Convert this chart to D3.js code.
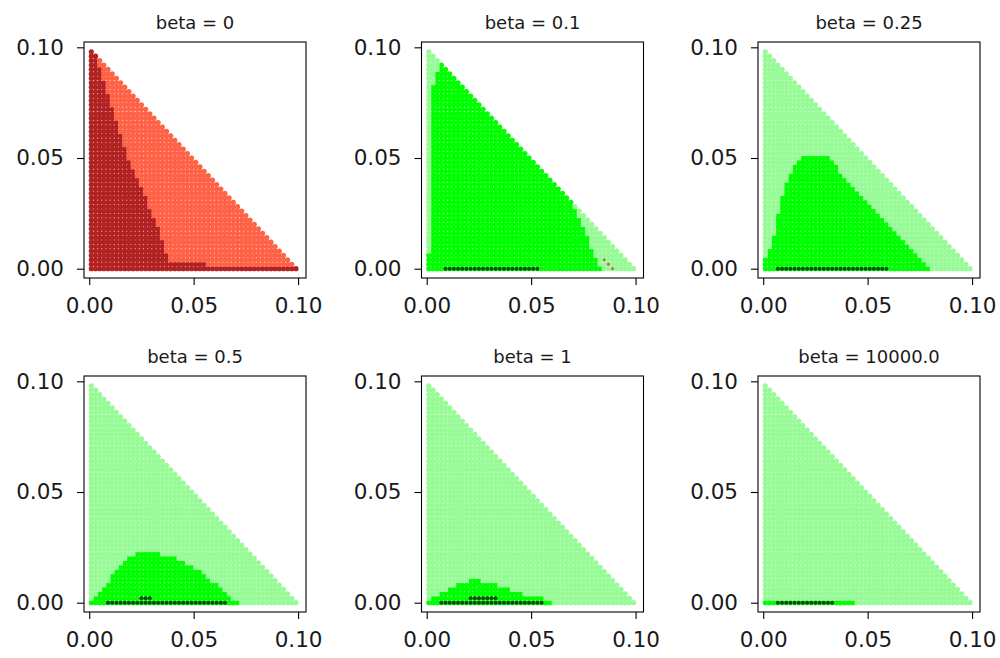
<!DOCTYPE html>
<html>
<head>
<meta charset="utf-8">
<script src="https://cdn.jsdelivr.net/npm/d3@7"></script>
<style>
  html, body { margin: 0; padding: 0; background: #ffffff; }
  svg { display: block; }
  .tick text { font-family: "DejaVu Sans", sans-serif; }
</style>
</head>
<body>
<svg id="chart" width="1000" height="658"></svg>
<script>
// Grid of parameter pairs: x = 0.001 + 0.002*i, y = 0.002*j, with x + y < 0.1
const xStart = 0.001, xStep = 0.002, nCols = 50;
const yStep = 0.002;

const betaLabels = ["0", "0.1", "0.25", "0.5", "1", "10000.0"];

// Highest row index (per column) that belongs to the inner region; -1 = none
const innerTopBeta0 = [49,48,45,42,39,36,33,30,27,24,22,20,18,16,13,11,9,6,3,
  1,1,1,1,1,1,1,1,1,
  0,0,0,0,0,0,0,0,0,0,0,0,0,0,0,0,0,0,0,0,0,0];
const innerTopBeta01 = [3,41,44,46,45,44,43,42,41,40,39,38,37,36,35,34,33,32,31,30,
  29,28,27,26,25,24,23,22,21,20,19,18,17,16,15,13,11,9,7,4,2,0,
  -1,-1,-1,-1,-1,-1,-1,-1];
const innerTopBeta025 = [2,4,7,12,16,19,21,23,24,25,25,25,25,25,25,25,24,23,21,20,
  19,18,17,16,15,14,13,12,11,10,9,8,7,6,5,4,3,2,1,0,
  -1,-1,-1,-1,-1,-1,-1,-1,-1,-1];
const innerTopBeta05 = [0,1,2,3,4,6,7,8,9,10,10,11,11,11,11,11,11,10,10,10,
  10,9,9,8,8,7,7,6,5,4,4,3,2,1,0,0,
  -1,-1,-1,-1,-1,-1,-1,-1,-1,-1,-1,-1,-1,-1];
const innerTopBeta1 = [0,1,1,2,2,3,3,4,4,4,5,5,5,4,4,4,4,3,3,3,
  2,2,2,1,1,1,1,1,0,0,
  -1,-1,-1,-1,-1,-1,-1,-1,-1,-1,-1,-1,-1,-1,-1,-1,-1,-1,-1,-1];
const innerTopBeta1e4 = [0,0,0,0,0,0,0,0,0,0,0,0,0,0,0,0,0,0,0,0,0,0,
  -1,-1,-1,-1,-1,-1,-1,-1,-1,-1,-1,-1,-1,-1,-1,-1,-1,-1,-1,-1,-1,-1,-1,-1,-1,-1,-1,-1];

// Optimal points: [row, first column, last column]
const optimaBeta0 = [];
const optimaBeta01 = [[0, 4, 26]];
const optimaBeta025 = [[0, 3, 29]];
const optimaBeta05 = [[0, 4, 32], [1, 12, 14]];
const optimaBeta1 = [[0, 3, 27], [1, 10, 16]];
const optimaBeta1e4 = [[0, 3, 16]];

// Isolated points of the other class: [x, y]
const specksBeta01 = [[0.085, 0.004], [0.087, 0.002], [0.089, 0.0]];

const innerTops = [innerTopBeta0, innerTopBeta01, innerTopBeta025, innerTopBeta05, innerTopBeta1, innerTopBeta1e4];
const optima = [optimaBeta0, optimaBeta01, optimaBeta025, optimaBeta05, optimaBeta1, optimaBeta1e4];
const specks = [[], specksBeta01, [], [], [], []];

const palettes = [
  { outer: "#ff6347", inner: "#b22222" },
  { outer: "#98fb98", inner: "#00ff00" },
  { outer: "#98fb98", inner: "#00ff00" },
  { outer: "#98fb98", inner: "#00ff00" },
  { outer: "#98fb98", inner: "#00ff00" },
  { outer: "#98fb98", inner: "#00ff00" }
];

const tickValues = [0, 0.05, 0.10];
const tickLabels = ["0.00", "0.05", "0.10"];

// Layout
const panelLefts = [84, 421.5, 758];
const panelTops = [42, 376];
const panelW = 222, panelH = 236;
const xDomain = [-0.0025, 0.1038];
const yDomain = [-0.0042, 0.1024];
const dotR = 2.6;

const svg = d3.select("#chart");

// Build grid of points once
const grid = [];
for (let i = 0; i < nCols; i++) {
  const x = xStart + xStep * i;
  for (let j = 0; ; j++) {
    const y = yStep * j;
    if (x + y >= 0.1 - 1e-9) break;
    grid.push({ i, j, x, y });
  }
}

betaLabels.forEach((beta, p) => {
  const row = Math.floor(p / 3), col = p % 3;
  const left = panelLefts[col], top = panelTops[row];
  const g = svg.append("g").attr("transform", `translate(${left},${top})`);

  const xs = d3.scaleLinear().domain(xDomain).range([0, panelW]);
  const ys = d3.scaleLinear().domain(yDomain).range([panelH, 0]);

  const tops = innerTops[p];
  const pal = palettes[p];
  const isInner = d => d.j <= tops[d.i];

  // inner class first, outer class drawn over it
  const ordered = grid.filter(isInner).concat(grid.filter(d => !isInner(d)));

  g.append("g").selectAll("circle")
    .data(ordered)
    .join("circle")
    .attr("cx", d => xs(d.x))
    .attr("cy", d => ys(d.y))
    .attr("r", dotR)
    .attr("fill", d => isInner(d) ? pal.inner : pal.outer);

  // isolated points
  g.append("g").selectAll("circle")
    .data(specks[p])
    .join("circle")
    .attr("cx", d => xs(d[0]))
    .attr("cy", d => ys(d[1]))
    .attr("r", 1.4)
    .attr("fill", "#d2553a");

  // optimal points
  const opt = [];
  optima[p].forEach(([j, c0, c1]) => {
    for (let i = c0; i <= c1; i++) opt.push({ x: xStart + xStep * i, y: yStep * j });
  });
  g.append("g").selectAll("circle")
    .data(opt)
    .join("circle")
    .attr("cx", d => xs(d.x))
    .attr("cy", d => ys(d.y))
    .attr("r", 2.0)
    .attr("fill", "#0f2a0f")
    .attr("fill-opacity", 0.85);

  // frame
  g.append("rect")
    .attr("x", 0).attr("y", 0)
    .attr("width", panelW).attr("height", panelH)
    .attr("fill", "none").attr("stroke", "#000").attr("stroke-width", 1.1);

  const fmt = (d, k) => tickLabels[k];
  const xAxis = d3.axisBottom(xs).tickValues(tickValues).tickFormat(fmt).tickSize(7).tickPadding(13);
  const yAxis = d3.axisLeft(ys).tickValues(tickValues).tickFormat(fmt).tickSize(7).tickPadding(13);

  const gx = g.append("g").attr("transform", `translate(0,${panelH})`).call(xAxis);
  const gy = g.append("g").call(yAxis);
  [gx, gy].forEach(a => {
    a.select(".domain").remove();
    a.selectAll(".tick line").attr("stroke", "#000").attr("stroke-width", 1.1);
    a.selectAll(".tick text").attr("fill", "#1a1a1a").style("font-size", "21.5px");
  });

  g.append("text")
    .attr("x", panelW / 2)
    .attr("y", -13)
    .attr("text-anchor", "middle")
    .style("font-family", "'DejaVu Sans', sans-serif")
    .style("font-size", "18px")
    .attr("fill", "#1a1a1a")
    .text(`beta = ${beta}`);
});
</script>
</body>
</html>
